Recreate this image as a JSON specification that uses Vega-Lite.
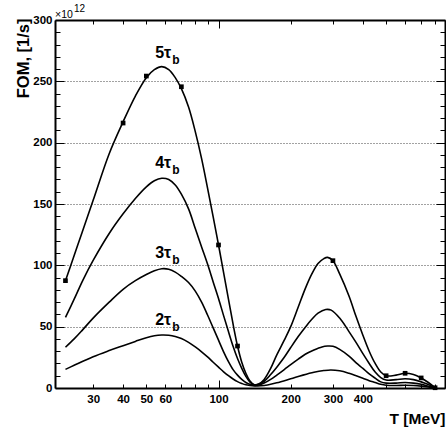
{
  "$schema": "https://vega.github.io/schema/vega-lite/v6.json",
  "width": 390,
  "height": 368,
  "autosize": "none",
  "padding": {"left": 55, "top": 20, "right": 1, "bottom": 40},
  "background": "white",
  "config": {
    "font": "Liberation Sans",
    "view": {"stroke": null},
    "axis": {
      "labelColor": "black",
      "tickColor": "black",
      "domainColor": "black",
      "domainWidth": 2,
      "tickWidth": 1,
      "titleColor": "black",
      "labelFontSize": 11.5,
      "labelFontWeight": "bold",
      "labelOverlap": false,
      "labelFlush": false
    }
  },
  "datasets": {
    "curves": [
      {"c": "5", "T": 23, "F": 87.5}, {"c": "5", "T": 25, "F": 108}, {"c": "5", "T": 27, "F": 127}, {"c": "5", "T": 30, "F": 153},
      {"c": "5", "T": 35, "F": 191}, {"c": "5", "T": 40, "F": 217}, {"c": "5", "T": 45, "F": 238}, {"c": "5", "T": 50, "F": 253},
      {"c": "5", "T": 54, "F": 259.5}, {"c": "5", "T": 58, "F": 262}, {"c": "5", "T": 62, "F": 259.5}, {"c": "5", "T": 66, "F": 253},
      {"c": "5", "T": 70, "F": 244}, {"c": "5", "T": 75, "F": 229}, {"c": "5", "T": 80, "F": 209}, {"c": "5", "T": 85, "F": 187},
      {"c": "5", "T": 90, "F": 163}, {"c": "5", "T": 95, "F": 139.5}, {"c": "5", "T": 100, "F": 116.6}, {"c": "5", "T": 105, "F": 94},
      {"c": "5", "T": 110, "F": 72.5}, {"c": "5", "T": 115, "F": 52}, {"c": "5", "T": 120, "F": 34.2}, {"c": "5", "T": 125, "F": 21},
      {"c": "5", "T": 130, "F": 12}, {"c": "5", "T": 135, "F": 6}, {"c": "5", "T": 141, "F": 2.7}, {"c": "5", "T": 147, "F": 3.2},
      {"c": "5", "T": 155, "F": 7}, {"c": "5", "T": 165, "F": 16}, {"c": "5", "T": 175, "F": 27}, {"c": "5", "T": 188, "F": 39},
      {"c": "5", "T": 200, "F": 50}, {"c": "5", "T": 215, "F": 66}, {"c": "5", "T": 230, "F": 81}, {"c": "5", "T": 245, "F": 93},
      {"c": "5", "T": 260, "F": 101.5}, {"c": "5", "T": 275, "F": 105.5}, {"c": "5", "T": 285, "F": 106.5}, {"c": "5", "T": 300, "F": 103.8},
      {"c": "5", "T": 320, "F": 93}, {"c": "5", "T": 350, "F": 75}, {"c": "5", "T": 375, "F": 58}, {"c": "5", "T": 400, "F": 43},
      {"c": "5", "T": 425, "F": 30}, {"c": "5", "T": 450, "F": 20}, {"c": "5", "T": 475, "F": 13}, {"c": "5", "T": 500, "F": 10},
      {"c": "5", "T": 550, "F": 10.5}, {"c": "5", "T": 600, "F": 12}, {"c": "5", "T": 650, "F": 11}, {"c": "5", "T": 700, "F": 8.2},
      {"c": "5", "T": 750, "F": 4.5}, {"c": "5", "T": 800, "F": 0.2},

      {"c": "4", "T": 23, "F": 57.6}, {"c": "4", "T": 25, "F": 72.4}, {"c": "4", "T": 27.2, "F": 88}, {"c": "4", "T": 30, "F": 104},
      {"c": "4", "T": 35, "F": 126}, {"c": "4", "T": 40, "F": 142}, {"c": "4", "T": 45, "F": 154.5}, {"c": "4", "T": 50, "F": 164},
      {"c": "4", "T": 54, "F": 169}, {"c": "4", "T": 58, "F": 171}, {"c": "4", "T": 62, "F": 170}, {"c": "4", "T": 66, "F": 165.5},
      {"c": "4", "T": 70, "F": 158}, {"c": "4", "T": 75, "F": 146}, {"c": "4", "T": 80, "F": 130}, {"c": "4", "T": 85, "F": 115},
      {"c": "4", "T": 90, "F": 101}, {"c": "4", "T": 95, "F": 86.5}, {"c": "4", "T": 100, "F": 73}, {"c": "4", "T": 105, "F": 59},
      {"c": "4", "T": 110, "F": 46}, {"c": "4", "T": 115, "F": 34}, {"c": "4", "T": 120, "F": 24}, {"c": "4", "T": 125, "F": 16},
      {"c": "4", "T": 130, "F": 9.5}, {"c": "4", "T": 135, "F": 5}, {"c": "4", "T": 141, "F": 2.5}, {"c": "4", "T": 147, "F": 3},
      {"c": "4", "T": 155, "F": 5.5}, {"c": "4", "T": 165, "F": 11}, {"c": "4", "T": 175, "F": 17}, {"c": "4", "T": 188, "F": 25},
      {"c": "4", "T": 200, "F": 33}, {"c": "4", "T": 215, "F": 42}, {"c": "4", "T": 231, "F": 50}, {"c": "4", "T": 245, "F": 56},
      {"c": "4", "T": 260, "F": 61}, {"c": "4", "T": 280, "F": 64}, {"c": "4", "T": 295, "F": 63.5}, {"c": "4", "T": 320, "F": 57},
      {"c": "4", "T": 350, "F": 46}, {"c": "4", "T": 375, "F": 37}, {"c": "4", "T": 400, "F": 28}, {"c": "4", "T": 425, "F": 20},
      {"c": "4", "T": 450, "F": 13}, {"c": "4", "T": 475, "F": 8.5}, {"c": "4", "T": 500, "F": 6.5}, {"c": "4", "T": 550, "F": 6.8},
      {"c": "4", "T": 600, "F": 7.5}, {"c": "4", "T": 650, "F": 6.8}, {"c": "4", "T": 700, "F": 5}, {"c": "4", "T": 750, "F": 2.8},
      {"c": "4", "T": 800, "F": 0},

      {"c": "3", "T": 23, "F": 33.2}, {"c": "3", "T": 25, "F": 40}, {"c": "3", "T": 27, "F": 47}, {"c": "3", "T": 30, "F": 57},
      {"c": "3", "T": 35, "F": 70}, {"c": "3", "T": 40, "F": 80.5}, {"c": "3", "T": 45, "F": 87.5}, {"c": "3", "T": 50, "F": 92.5},
      {"c": "3", "T": 54, "F": 95.5}, {"c": "3", "T": 58, "F": 97.2}, {"c": "3", "T": 62, "F": 96.8}, {"c": "3", "T": 66, "F": 94.5},
      {"c": "3", "T": 70, "F": 91}, {"c": "3", "T": 75, "F": 86}, {"c": "3", "T": 80, "F": 79}, {"c": "3", "T": 85, "F": 70},
      {"c": "3", "T": 90, "F": 59.5}, {"c": "3", "T": 95, "F": 49}, {"c": "3", "T": 100, "F": 39}, {"c": "3", "T": 105, "F": 29.5},
      {"c": "3", "T": 110, "F": 21.5}, {"c": "3", "T": 115, "F": 15}, {"c": "3", "T": 120, "F": 10.5}, {"c": "3", "T": 125, "F": 7},
      {"c": "3", "T": 130, "F": 4.5}, {"c": "3", "T": 135, "F": 3}, {"c": "3", "T": 141, "F": 2.2}, {"c": "3", "T": 147, "F": 2.5},
      {"c": "3", "T": 155, "F": 4}, {"c": "3", "T": 165, "F": 7}, {"c": "3", "T": 175, "F": 10.5}, {"c": "3", "T": 188, "F": 15},
      {"c": "3", "T": 200, "F": 19}, {"c": "3", "T": 215, "F": 23.5}, {"c": "3", "T": 230, "F": 27.5}, {"c": "3", "T": 250, "F": 31},
      {"c": "3", "T": 270, "F": 33.5}, {"c": "3", "T": 285, "F": 34.2}, {"c": "3", "T": 300, "F": 34}, {"c": "3", "T": 320, "F": 31.5},
      {"c": "3", "T": 350, "F": 26}, {"c": "3", "T": 375, "F": 20.5}, {"c": "3", "T": 400, "F": 16}, {"c": "3", "T": 425, "F": 11.5},
      {"c": "3", "T": 450, "F": 8}, {"c": "3", "T": 475, "F": 5}, {"c": "3", "T": 500, "F": 4}, {"c": "3", "T": 550, "F": 4},
      {"c": "3", "T": 600, "F": 4.5}, {"c": "3", "T": 650, "F": 4}, {"c": "3", "T": 700, "F": 3}, {"c": "3", "T": 750, "F": 1.5},
      {"c": "3", "T": 800, "F": 0},

      {"c": "2", "T": 23, "F": 15.2}, {"c": "2", "T": 25, "F": 18.5}, {"c": "2", "T": 30, "F": 25.5}, {"c": "2", "T": 35, "F": 30.5},
      {"c": "2", "T": 40, "F": 34.5}, {"c": "2", "T": 45, "F": 38}, {"c": "2", "T": 50, "F": 41}, {"c": "2", "T": 54, "F": 42.6},
      {"c": "2", "T": 58, "F": 43.2}, {"c": "2", "T": 62, "F": 43}, {"c": "2", "T": 66, "F": 42}, {"c": "2", "T": 70, "F": 40.3},
      {"c": "2", "T": 75, "F": 37.2}, {"c": "2", "T": 80, "F": 33.5}, {"c": "2", "T": 85, "F": 29.5}, {"c": "2", "T": 90, "F": 25.3},
      {"c": "2", "T": 95, "F": 21}, {"c": "2", "T": 100, "F": 17}, {"c": "2", "T": 105, "F": 13.2}, {"c": "2", "T": 110, "F": 10}, 
      {"c": "2", "T": 115, "F": 7.3}, {"c": "2", "T": 120, "F": 5.2}, {"c": "2", "T": 125, "F": 3.7}, {"c": "2", "T": 130, "F": 2.6},
      {"c": "2", "T": 141, "F": 1.6}, {"c": "2", "T": 150, "F": 1.8}, {"c": "2", "T": 160, "F": 2.5}, {"c": "2", "T": 175, "F": 4.2},
      {"c": "2", "T": 200, "F": 7.5}, {"c": "2", "T": 225, "F": 10.5}, {"c": "2", "T": 250, "F": 12.8}, {"c": "2", "T": 275, "F": 14.2},
      {"c": "2", "T": 294, "F": 14.7}, {"c": "2", "T": 320, "F": 14}, {"c": "2", "T": 350, "F": 12}, {"c": "2", "T": 375, "F": 10},
      {"c": "2", "T": 400, "F": 8}, {"c": "2", "T": 425, "F": 6}, {"c": "2", "T": 450, "F": 4.5}, {"c": "2", "T": 475, "F": 3},
      {"c": "2", "T": 500, "F": 2.2}, {"c": "2", "T": 550, "F": 2}, {"c": "2", "T": 600, "F": 2.2}, {"c": "2", "T": 650, "F": 2},
      {"c": "2", "T": 700, "F": 1.5}, {"c": "2", "T": 750, "F": 0.8}, {"c": "2", "T": 800, "F": 0}
    ],
    "markers": [
      {"T": 23, "F": 87.5}, {"T": 40, "F": 216}, {"T": 50, "F": 254.3}, {"T": 70, "F": 245.6},
      {"T": 100, "F": 116.6}, {"T": 120, "F": 34.2}, {"T": 300, "F": 103.8}, {"T": 500, "F": 10},
      {"T": 600, "F": 12}, {"T": 700, "F": 8.2}, {"T": 800, "F": 0.2}
    ],
    "labels": [
      {"main": "5τ", "T": 63.5, "F": 269},
      {"main": "4τ", "T": 63.5, "F": 179},
      {"main": "3τ", "T": 63.5, "F": 105.7},
      {"main": "2τ", "T": 63.5, "F": 51.4}
    ],
    "exp": [
      {"base": "×10", "sup": "12", "T": 20.8, "F": 300}
    ]
  },
  "layer": [
    {
      "data": {"name": "curves"},
      "mark": {"type": "line", "interpolate": "catmull-rom", "color": "black", "strokeWidth": 1.6},
      "encoding": {
        "x": {
          "field": "T", "type": "quantitative",
          "scale": {"type": "log", "domain": [20.8, 880], "nice": false},
          "axis": {
            "orient": "bottom",
            "values": [30, 40, 50, 60, 70, 80, 90, 100, 200, 300, 400, 500, 600, 700, 800],
            "labelExpr": "indexof([30,40,50,60,100,200,300,400], datum.value) >= 0 ? format(datum.value, 'd') : ''",
            "tickSize": {"condition": {"test": "datum.value === 100", "value": -8}, "value": -4},
            "labelPadding": {"condition": {"test": "datum.value === 100", "value": 13}, "value": 9},
            "grid": false,
            "title": "T [MeV]",
            "titleX": 390, "titleY": 35, "titleAlign": "right", "titleBaseline": "alphabetic",
            "titleFontSize": 15.5, "titleFontWeight": "bold"
          }
        },
        "y": {
          "field": "F", "type": "quantitative",
          "scale": {"domain": [0, 300], "nice": false},
          "axis": {
            "orient": "left",
            "values": [0, 10, 20, 30, 40, 50, 60, 70, 80, 90, 100, 110, 120, 130, 140, 150, 160, 170, 180, 190, 200, 210, 220, 230, 240, 250, 260, 270, 280, 290, 300],
            "labelExpr": "datum.value % 50 === 0 ? format(datum.value, 'd') : ''",
            "tickSize": {"condition": {"test": "datum.value % 50 === 0", "value": -9}, "value": -5},
            "labelPadding": 12,
            "grid": true,
            "gridDash": [1, 2],
            "gridColor": "#444",
            "gridWidth": 1,
            "gridOpacity": {"condition": {"test": "datum.value % 50 === 0 && datum.value > 0 && datum.value < 300", "value": 1}, "value": 0},
            "title": "FOM, [1/s]",
            "titleX": -27, "titleY": -2, "titleAngle": 270, "titleAlign": "right", "titleBaseline": "alphabetic",
            "titleFontSize": 16.5, "titleFontWeight": "bold"
          }
        },
        "detail": {"field": "c"}
      }
    },
    {
      "data": {"name": "markers"},
      "mark": {"type": "square", "size": 22, "color": "black", "filled": true, "opacity": 1},
      "encoding": {
        "x": {
          "field": "T", "type": "quantitative",
          "axis": {
            "orient": "top",
            "values": [30, 40, 50, 60, 70, 80, 90, 100, 200, 300, 400, 500, 600, 700, 800],
            "labels": false,
            "tickSize": {"condition": {"test": "datum.value === 100", "value": -8}, "value": -4},
            "grid": false,
            "title": null
          }
        },
        "y": {
          "field": "F", "type": "quantitative",
          "axis": {
            "orient": "right",
            "values": [0, 10, 20, 30, 40, 50, 60, 70, 80, 90, 100, 110, 120, 130, 140, 150, 160, 170, 180, 190, 200, 210, 220, 230, 240, 250, 260, 270, 280, 290, 300],
            "labels": false,
            "tickSize": {"condition": {"test": "datum.value % 50 === 0", "value": -9}, "value": -5},
            "grid": false,
            "title": null
          }
        }
      }
    },
    {
      "data": {"name": "labels"},
      "mark": {"type": "text", "align": "right", "baseline": "alphabetic", "fontSize": 16, "fontWeight": "bold", "color": "black"},
      "encoding": {
        "x": {"field": "T", "type": "quantitative", "axis": null},
        "y": {"field": "F", "type": "quantitative", "axis": null},
        "text": {"field": "main"}
      }
    },
    {
      "data": {"name": "labels"},
      "mark": {"type": "text", "align": "left", "baseline": "alphabetic", "fontSize": 12, "fontWeight": "bold", "color": "black", "dx": 1, "dy": 6},
      "encoding": {
        "x": {"field": "T", "type": "quantitative", "axis": null},
        "y": {"field": "F", "type": "quantitative", "axis": null},
        "text": {"value": "b"}
      }
    },
    {
      "data": {"name": "exp"},
      "mark": {"type": "text", "align": "left", "baseline": "alphabetic", "fontSize": 10.5, "color": "black", "dx": 0, "dy": -2.5},
      "encoding": {
        "x": {"field": "T", "type": "quantitative", "axis": null},
        "y": {"field": "F", "type": "quantitative", "axis": null},
        "text": {"field": "base"}
      }
    },
    {
      "data": {"name": "exp"},
      "mark": {"type": "text", "align": "left", "baseline": "alphabetic", "fontSize": 10, "color": "black", "dx": 19, "dy": -8},
      "encoding": {
        "x": {"field": "T", "type": "quantitative", "axis": null},
        "y": {"field": "F", "type": "quantitative", "axis": null},
        "text": {"field": "sup"}
      }
    }
  ],
  "resolve": {"axis": {"x": "independent", "y": "independent"}}
}
